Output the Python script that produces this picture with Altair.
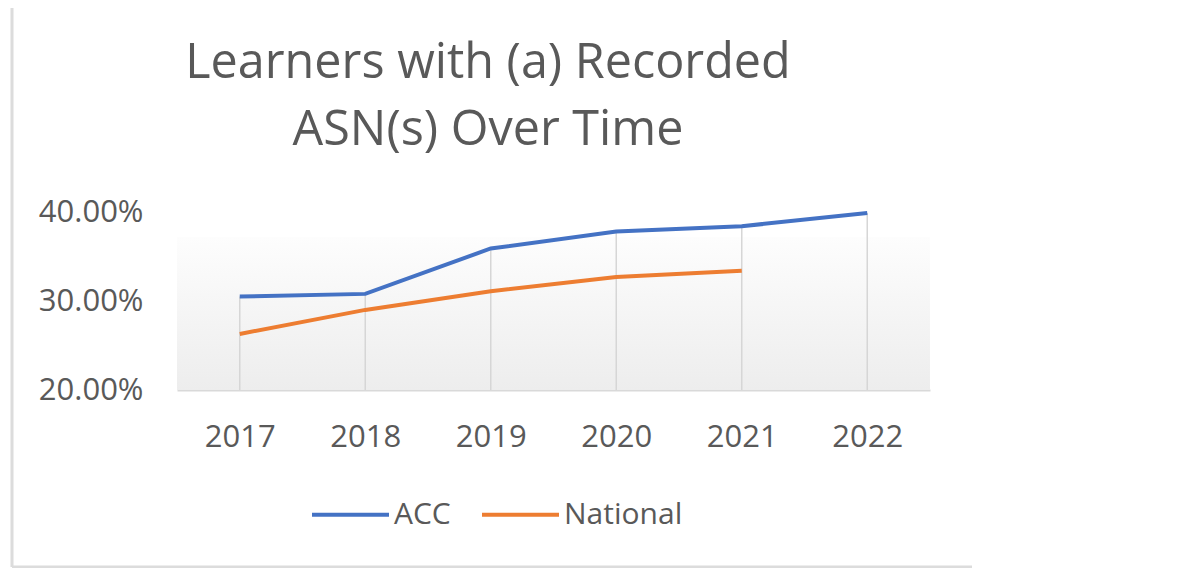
import altair as alt
import pandas as pd

years = ["2017", "2018", "2019", "2020", "2021", "2022"]
acc = [0.305, 0.308, 0.359, 0.378, 0.384, 0.399]
national = [0.263, 0.290, 0.311, 0.327, 0.334, None]
series_names = ["ACC", "National"]
series_colors = ["#4472C4", "#ED7D31"]
y_ticks = [0.2, 0.3, 0.4]
title_lines = ["Learners with (a) Recorded", "ASN(s) Over Time"]

rows = []
for y, a, n in zip(years, acc, national):
    rows.append({"year": y, "series": "ACC", "value": a})
    if n is not None:
        rows.append({"year": y, "series": "National", "value": n})
df = pd.DataFrame(rows)

drop = pd.DataFrame({
    "year": years,
    "top": [max(v for v in (a, n) if v is not None) for a, n in zip(acc, national)],
    "base": [0.2] * len(years),
})

FONT = "Open Sans"
GRAY = "#595959"

x_enc = alt.X("year:O", scale=alt.Scale(type="point", padding=0.5),
              axis=alt.Axis(title=None, labelAngle=0, ticks=False, domain=True,
                            domainColor="#d9d9d9", domainWidth=2,
                            labelFont=FONT, labelFontSize=31, labelColor=GRAY,
                            labelPadding=32, grid=False))
y_scale = alt.Scale(domain=[0.2, 0.4], nice=False, zero=False)

one = pd.DataFrame({"k": [0]})

bg = alt.Chart(one).mark_rect(
    fill=alt.LinearGradient(gradient="linear", x1=0, x2=0, y1=0, y2=1,
                            stops=[alt.GradientStop(color="#fdfdfd", offset=0),
                                   alt.GradientStop(color="#ededed", offset=1)])
).encode(x=alt.value(0), x2=alt.value("width"), y=alt.value(25), y2=alt.value("height"))

drops = alt.Chart(drop).mark_rule(color="#d6d6d6", strokeWidth=1.5).encode(
    x=x_enc,
    y=alt.Y("base:Q", scale=y_scale,
            axis=alt.Axis(title=None, values=y_ticks, format=".2%", ticks=False,
                          domain=False, grid=False, labelFont=FONT, labelFontSize=31,
                          labelColor=GRAY, labelPadding=34)),
    y2="top:Q",
)

lines = alt.Chart(df).mark_line(strokeWidth=4, interpolate="linear").encode(
    x=alt.X("year:O"),
    y=alt.Y("value:Q", scale=y_scale),
    color=alt.Color("series:N",
                    scale=alt.Scale(domain=series_names, range=series_colors),
                    legend=alt.Legend(title=None, orient="none", legendX=133, legendY=262,
                                      direction="horizontal", symbolType="stroke",
                                      symbolSize=5929, symbolStrokeWidth=4,
                                      labelFont=FONT, labelFontSize=30, labelColor=GRAY,
                                      labelOffset=3, columnPadding=23)),
)

title = alt.Chart(pd.DataFrame({"t": [title_lines]})).mark_text(
    font=FONT, fontSize=48.5, color=GRAY, align="center", baseline="alphabetic",
    lineHeight=67
).encode(text="t", x=alt.value(311), y=alt.value(-134))

frame_left = alt.Chart(one).mark_rule(color="#dcdcdc", strokeWidth=3).encode(
    x=alt.value(-165), y=alt.value(-207), y2=alt.value(355))
frame_bottom = alt.Chart(one).mark_rule(color="#dcdcdc", strokeWidth=3).encode(
    x=alt.value(-165), x2=alt.value(795), y=alt.value(355))

chart = alt.layer(bg, drops, lines, title, frame_left, frame_bottom).properties(
    width=753, height=178,
    autosize=alt.AutoSizeParams(type="none"),
    padding={"left": 169, "top": 204, "right": 260, "bottom": 178},
).configure(background="white").configure_view(stroke=None)

chart.save("out.html", embed_options={"renderer": "svg", "actions": False})
